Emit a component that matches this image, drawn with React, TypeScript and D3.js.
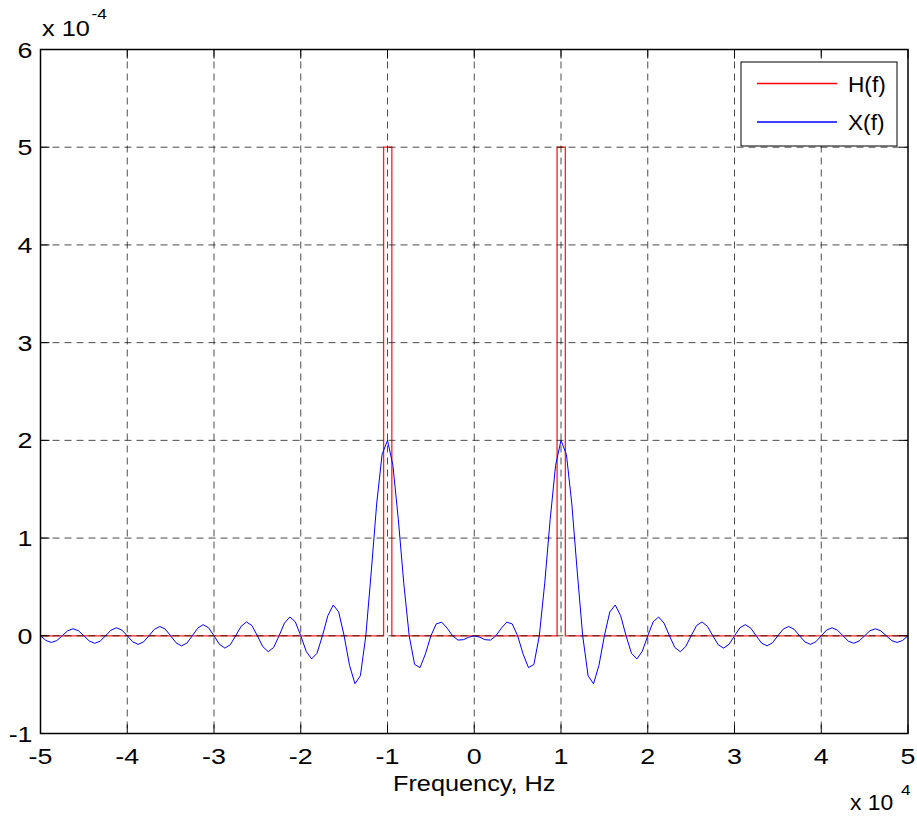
import React from 'react'
import * as d3 from 'd3'

// frequency axis ticks (x 10^4 Hz) and magnitude ticks (x 10^-4)
const xTicks = [-5, -4, -3, -2, -1, 0, 1, 2, 3, 4, 5]
const yTicks = [-1, 0, 1, 2, 3, 4, 5, 6]

// H(f): ideal band-pass around +/-10 kHz  [Hz, x10^-4]
const hfSamples: [number, number][] = [
  [-50000, 0], [-10450, 0], [-10450, 5], [-9500, 5], [-9500, 0],
  [9550, 0], [9550, 5], [10500, 5], [10500, 0], [50000, 0],
]

// X(f): spectrum  [Hz, x10^-4]
const xfSamples: [number, number][] = [
  [-50000, 0], [-49375, -0.048], [-48750, -0.068], [-48125, -0.049], [-47500, 0],
  [-46875, 0.05], [-46250, 0.072], [-45625, 0.052], [-45000, 0],
  [-44375, -0.053], [-43750, -0.077], [-43125, -0.055], [-42500, 0],
  [-41875, 0.057], [-41250, 0.082], [-40625, 0.059], [-40000, 0],
  [-39375, -0.061], [-38750, -0.088], [-38125, -0.063], [-37500, 0],
  [-36875, 0.066], [-36250, 0.095], [-35625, 0.069], [-35000, 0],
  [-34375, -0.072], [-33750, -0.103], [-33125, -0.075], [-32500, 0],
  [-31875, 0.078], [-31250, 0.114], [-30625, 0.082], [-30000, 0],
  [-29375, -0.087], [-28750, -0.126], [-28125, -0.092], [-27500, 0],
  [-26875, 0.097], [-26250, 0.142], [-25625, 0.104], [-25000, 0],
  [-24375, -0.111], [-23750, -0.163], [-23125, -0.12], [-22500, 0],
  [-21875, 0.13], [-21250, 0.192], [-20625, 0.143], [-20000, 0],
  [-19375, -0.158], [-18750, -0.237], [-18125, -0.179], [-17500, 0],
  [-16875, 0.206], [-16250, 0.315], [-15625, 0.244], [-15000, 0],
  [-14375, -0.303], [-13750, -0.491], [-13125, -0.409], [-12500, 0],
  [-11875, 0.652], [-11250, 1.348], [-10625, 1.855], [-10000, 2.0],
  [-9375, 1.743], [-8750, 1.188], [-8125, 0.538], [-7500, 0],
  [-6875, -0.293], [-6250, -0.326], [-5625, -0.185], [-5000, 0],
  [-4375, 0.122], [-3750, 0.139], [-3125, 0.078], [-2500, 0],
  [-1875, -0.044], [-1250, -0.04], [-625, -0.014], [0, 0],
  [625, -0.014], [1250, -0.04], [1875, -0.044], [2500, 0],
  [3125, 0.078], [3750, 0.139], [4375, 0.122], [5000, 0],
  [5625, -0.185], [6250, -0.326], [6875, -0.293], [7500, 0],
  [8125, 0.538], [8750, 1.188], [9375, 1.743], [10000, 2.0],
  [10625, 1.855], [11250, 1.348], [11875, 0.652], [12500, 0],
  [13125, -0.409], [13750, -0.491], [14375, -0.303], [15000, 0],
  [15625, 0.244], [16250, 0.315], [16875, 0.206], [17500, 0],
  [18125, -0.179], [18750, -0.237], [19375, -0.158], [20000, 0],
  [20625, 0.143], [21250, 0.192], [21875, 0.13], [22500, 0],
  [23125, -0.12], [23750, -0.163], [24375, -0.111], [25000, 0],
  [25625, 0.104], [26250, 0.142], [26875, 0.097], [27500, 0],
  [28125, -0.092], [28750, -0.126], [29375, -0.087], [30000, 0],
  [30625, 0.082], [31250, 0.114], [31875, 0.078], [32500, 0],
  [33125, -0.075], [33750, -0.103], [34375, -0.072], [35000, 0],
  [35625, 0.069], [36250, 0.095], [36875, 0.066], [37500, 0],
  [38125, -0.063], [38750, -0.088], [39375, -0.061], [40000, 0],
  [40625, 0.059], [41250, 0.082], [41875, 0.057], [42500, 0],
  [43125, -0.055], [43750, -0.077], [44375, -0.053], [45000, 0],
  [45625, 0.052], [46250, 0.072], [46875, 0.05], [47500, 0],
  [48125, -0.049], [48750, -0.068], [49375, -0.048], [50000, 0],
]

const legendItems = [
  { label: 'H(f)', color: '#ff0000' },
  { label: 'X(f)', color: '#0000ff' },
]

const FONT = '"Liberation Sans", Arial, Helvetica, sans-serif'
const STRETCH = 1.15 // axis text in the original is drawn a little wide
const TICK_STRETCH = 1.22

function SpectrumPlot({ width = 917, height = 816 }) {
  const svgRef = React.useRef<SVGSVGElement>(null)

  React.useEffect(() => {
    const svg = d3.select(svgRef.current)
    svg.selectAll('*').remove()

    const left = 40.5
    const right = 908
    const top = 49.5
    const bottom = 733.5

    const xScale = d3.scaleLinear().domain([-50000, 50000]).range([left, right])
    const yScale = d3.scaleLinear().domain([-1, 6]).range([bottom, top])

    svg.append('rect').attr('width', width).attr('height', height).attr('fill', 'white')

    // data
    const line = d3
      .line<[number, number]>()
      .x((d) => xScale(d[0]))
      .y((d) => yScale(d[1]))

    svg
      .append('path')
      .datum(hfSamples)
      .attr('d', line)
      .attr('fill', 'none')
      .attr('stroke', '#ff2020')
      .attr('stroke-width', 1.3)

    svg
      .append('path')
      .datum(xfSamples)
      .attr('d', line)
      .attr('fill', 'none')
      .attr('stroke', '#0000ff')
      .attr('stroke-width', 1)

    // dashed grid (drawn on top, as in the original export)
    const grid = svg
      .append('g')
      .attr('stroke', '#000')
      .attr('stroke-opacity', 0.7)
      .attr('stroke-dasharray', '7,5')
    xTicks.slice(1, -1).forEach((t) => {
      grid
        .append('line')
        .attr('x1', xScale(t * 1e4))
        .attr('x2', xScale(t * 1e4))
        .attr('y1', top)
        .attr('y2', bottom)
    })
    yTicks.slice(1, -1).forEach((t) => {
      grid
        .append('line')
        .attr('x1', left)
        .attr('x2', right)
        .attr('y1', yScale(t))
        .attr('y2', yScale(t))
    })

    // ticks inside the box, all four sides
    const tickLen = 9
    const ticks = svg.append('g').attr('stroke', '#000').attr('stroke-width', 1)
    xTicks.forEach((t) => {
      const x = xScale(t * 1e4)
      ticks.append('line').attr('x1', x).attr('x2', x).attr('y1', bottom).attr('y2', bottom - tickLen)
      ticks.append('line').attr('x1', x).attr('x2', x).attr('y1', top).attr('y2', top + tickLen)
    })
    yTicks.forEach((t) => {
      const y = yScale(t)
      ticks.append('line').attr('x1', left).attr('x2', left + tickLen).attr('y1', y).attr('y2', y)
      ticks.append('line').attr('x1', right).attr('x2', right - tickLen).attr('y1', y).attr('y2', y)
    })

    // box
    svg
      .append('rect')
      .attr('x', left)
      .attr('y', top)
      .attr('width', right - left)
      .attr('height', bottom - top)
      .attr('fill', 'none')
      .attr('stroke', '#000')
      .attr('stroke-width', 1.5)

    // text helper: positioned by transform so it can be widened
    const addText = (
      parent: d3.Selection<SVGGElement, unknown, null, undefined>,
      x: number,
      y: number,
      txt: string,
      anchor = 'start',
      size = 22,
      sx = STRETCH
    ) =>
      parent
        .append('text')
        .attr('transform', `translate(${x},${y}) scale(${sx},1)`)
        .attr('text-anchor', anchor)
        .attr('font-family', FONT)
        .attr('font-size', size)
        .attr('fill', '#000')
        .text(txt)

    const labels = svg.append('g')
    xTicks.forEach((t) => addText(labels, xScale(t * 1e4), 764, String(t), 'middle', 22, TICK_STRETCH))
    yTicks.forEach((t) => addText(labels, 32.5, yScale(t) + 8, String(t), 'end', 22, TICK_STRETCH))

    // exponent labels
    addText(labels, 42, 35.5, 'x 10')
    addText(labels, 91.5, 18.5, '-4', 'start', 15)
    addText(labels, 850, 810, 'x 10', 'start', 22, 1.04)
    addText(labels, 901, 795, '4', 'start', 15)

    // x label
    addText(labels, (left + right) / 2, 791, 'Frequency, Hz', 'middle')

    // legend
    const lg = svg.append('g')
    lg.append('rect')
      .attr('x', 741)
      .attr('y', 62)
      .attr('width', 156)
      .attr('height', 84)
      .attr('fill', 'white')
      .attr('stroke', '#000')
      .attr('stroke-width', 1)
    legendItems.forEach((item, i) => {
      const y = 83.5 + i * 38.5
      lg.append('line')
        .attr('x1', 757)
        .attr('x2', 837)
        .attr('y1', y)
        .attr('y2', y)
        .attr('stroke', item.color)
        .attr('stroke-width', 1.3)
      addText(lg, 848, y + 8, item.label, 'start', 22, 1.03)
    })
  }, [width, height])

  return (
    <svg
      ref={svgRef}
      width={width}
      height={height}
      style={{ position: 'absolute', left: 0, top: 0 }}
    ></svg>
  )
}

export default function App() {
  return <SpectrumPlot />
}
